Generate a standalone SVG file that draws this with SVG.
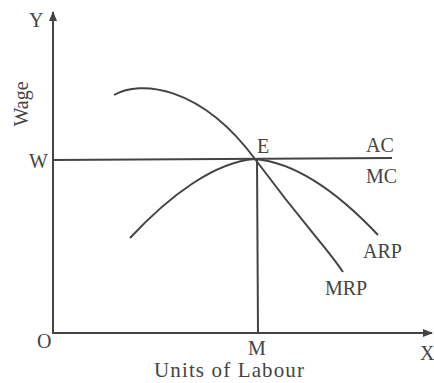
<svg xmlns="http://www.w3.org/2000/svg" width="434" height="383" viewBox="0 0 434 383">
<style>
.ln{stroke:#444;stroke-width:2;fill:none}
.t{font-family:"Liberation Serif",serif;font-size:20px;fill:#444}
</style>
<defs>
<marker id="ah" markerWidth="10" markerHeight="10" refX="9" refY="5" orient="auto" markerUnits="userSpaceOnUse">
<path d="M0,1 L10,5 L0,9 Z" fill="#444"/>
</marker>
</defs>
<rect width="434" height="383" fill="#fff"/>
<g id="connectors">
<line class="ln" x1="53" y1="334" x2="53" y2="12" marker-end="url(#ah)"/>
<line class="ln" x1="52" y1="333" x2="432" y2="333" marker-end="url(#ah)"/>
<line class="ln" x1="53" y1="160" x2="392" y2="158"/>
<line class="ln" x1="257" y1="159" x2="258" y2="333"/>
</g>
<g id="MRP">
<path class="ln" d="M114,95 C140,80 200,85 255,159 S325,245 343,272"/>
</g>
<g id="ARP">
<path class="ln" d="M130,238 C170,195 215,162 255,159 C300,163 345,200 378,235"/>
</g>
<g id="labels">
<text class="t" x="29" y="27">Y</text>
<text class="t" transform="translate(28,104) rotate(-90)" text-anchor="middle">Wage</text>
<text class="t" x="29" y="168">W</text>
<text class="t" x="37" y="348">O</text>
<text class="t" x="257" y="153">E</text>
<text class="t" x="366" y="152">AC</text>
<text class="t" x="366" y="183">MC</text>
<text class="t" x="363" y="258">ARP</text>
<text class="t" x="325" y="295">MRP</text>
<text class="t" x="248" y="355">M</text>
<text class="t" x="420" y="360">X</text>
<text class="t" x="229" y="377" text-anchor="middle" style="font-size:21px" textLength="150">Units of Labour</text>
</g>
</svg>
